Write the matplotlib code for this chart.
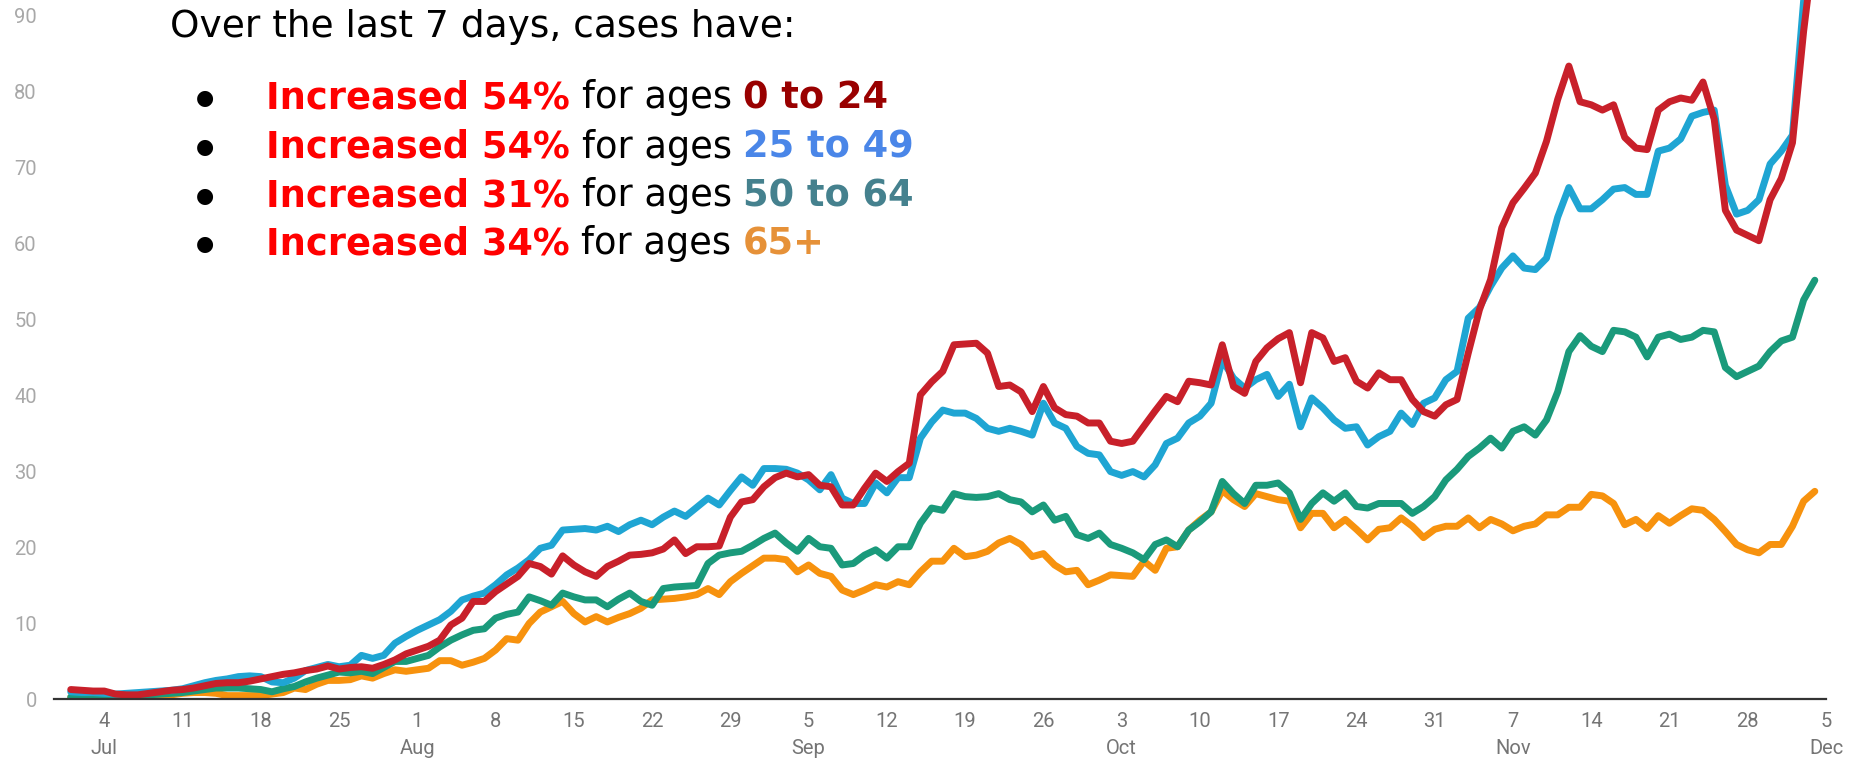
# new cases by age group, 7 day average, Jul 1 - Dec 4
import numpy as np
import pandas as pd
import matplotlib
matplotlib.use('Agg')
import matplotlib.pyplot as plt

dates = pd.date_range('2020-07-01', periods=157, freq='D')

ages_0_24 = [1.3, 1.2, 1.1, 1.1, 0.7, 0.6, 0.6, 0.8, 1.0, 1.2,
             1.3, 1.5, 1.8, 2.1, 2.2, 2.2, 2.4, 2.7, 3.0, 3.3,
             3.5, 3.8, 4.0, 4.4, 4.0, 4.2, 4.3, 4.1, 4.6, 5.2,
             6.0, 6.5, 7.0, 7.8, 9.8, 10.7, 12.9, 12.9, 14.2, 15.2,
             16.2, 17.9, 17.5, 16.5, 18.9, 17.7, 16.8, 16.2, 17.5, 18.2,
             19.0, 19.1, 19.3, 19.8, 21.0, 19.2, 20.1, 20.1, 20.2, 24.0,
             26.0, 26.3, 28.0, 29.2, 29.8, 29.3, 29.6, 28.2, 28.0, 25.6,
             25.6, 27.8, 29.8, 28.7, 30.0, 31.1, 40.1, 41.8, 43.2, 46.7,
             46.8, 46.9, 45.6, 41.2, 41.4, 40.5, 37.9, 41.2, 38.4, 37.5,
             37.3, 36.4, 36.4, 34.0, 33.7, 34.0, 36.0, 38.0, 39.9, 39.2,
             41.9, 41.7, 41.4, 46.7, 41.2, 40.3, 44.5, 46.3, 47.5, 48.3,
             41.7, 48.3, 47.6, 44.5, 45.0, 41.9, 41.0, 43.0, 42.1, 42.1,
             39.5, 37.9, 37.3, 38.8, 39.5, 45.6, 51.3, 55.3, 62.1, 65.4,
             67.3, 69.3, 73.5, 79.0, 83.4, 78.7, 78.3, 77.6, 78.3, 74.0,
             72.6, 72.4, 77.6, 78.7, 79.2, 78.9, 81.3, 76.4, 64.4, 61.8,
             61.1, 60.4, 65.8, 68.6, 73.3, 88.0, 100.0]

ages_25_49 = [1.0, 0.9, 0.9, 0.8, 0.7, 0.8, 0.9, 1.0, 1.1, 1.2,
              1.4, 1.8, 2.2, 2.5, 2.7, 3.0, 3.1, 3.0, 2.3, 2.2,
              2.8, 3.8, 4.2, 4.6, 4.3, 4.5, 5.8, 5.4, 5.8, 7.4,
              8.3, 9.1, 9.8, 10.5, 11.6, 13.1, 13.6, 14.0, 15.1, 16.4,
              17.3, 18.4, 19.9, 20.3, 22.3, 22.4, 22.5, 22.3, 22.8, 22.1,
              23.0, 23.6, 23.0, 24.0, 24.8, 24.1, 25.3, 26.5, 25.6, 27.5,
              29.3, 28.2, 30.4, 30.4, 30.3, 29.8, 28.9, 27.6, 29.6, 26.5,
              25.8, 25.8, 28.5, 27.2, 29.2, 29.2, 34.4, 36.5, 38.1, 37.7,
              37.7, 37.0, 35.7, 35.3, 35.7, 35.3, 34.8, 39.0, 36.4, 35.7,
              33.3, 32.4, 32.2, 30.0, 29.5, 30.0, 29.3, 30.9, 33.7, 34.4,
              36.4, 37.3, 39.0, 44.7, 42.3, 41.0, 42.1, 42.8, 39.9, 41.5,
              35.9, 39.7, 38.4, 36.8, 35.7, 35.9, 33.5, 34.6, 35.3, 37.7,
              36.2, 39.0, 39.7, 42.1, 43.2, 50.2, 51.6, 54.4, 56.8, 58.4,
              56.8, 56.6, 58.1, 63.5, 67.4, 64.6, 64.6, 65.8, 67.2, 67.4,
              66.5, 66.5, 72.2, 72.6, 73.8, 76.8, 77.3, 77.6, 67.7, 63.9,
              64.4, 65.8, 70.5, 72.2, 74.3, 92.0, 102.0]

ages_50_64 = [0.3, 0.5, 0.6, 0.6, 0.6, 0.6, 0.6, 0.6, 0.7, 0.8,
              0.9, 1.1, 1.3, 1.5, 1.5, 1.5, 1.4, 1.3, 1.0, 1.4,
              1.7, 2.3, 2.8, 3.2, 3.6, 3.5, 3.7, 3.4, 4.2, 5.0,
              5.0, 5.4, 5.8, 6.9, 7.8, 8.5, 9.1, 9.3, 10.7, 11.2,
              11.5, 13.5, 13.0, 12.4, 14.0, 13.5, 13.1, 13.1, 12.2, 13.2,
              14.0, 12.9, 12.4, 14.6, 14.8, 14.9, 15.0, 17.9, 19.0, 19.3,
              19.5, 20.3, 21.2, 21.9, 20.6, 19.5, 21.2, 20.1, 19.9, 17.7,
              17.9, 19.0, 19.7, 18.6, 20.1, 20.1, 23.2, 25.2, 24.9, 27.1,
              26.7, 26.6, 26.7, 27.1, 26.3, 26.0, 24.7, 25.6, 23.6, 24.1,
              21.7, 21.2, 21.9, 20.4, 19.9, 19.3, 18.4, 20.4, 21.0, 20.1,
              22.3, 23.4, 24.7, 28.7, 27.1, 25.8, 28.2, 28.2, 28.5, 27.2,
              23.7, 25.8, 27.2, 26.1, 27.2, 25.4, 25.2, 25.8, 25.8, 25.8,
              24.5, 25.4, 26.7, 28.9, 30.3, 32.0, 33.1, 34.4, 33.1, 35.3,
              35.9, 34.8, 36.8, 40.5, 45.8, 47.9, 46.5, 45.8, 48.6, 48.4,
              47.7, 45.1, 47.7, 48.1, 47.4, 47.7, 48.6, 48.4, 43.7, 42.5,
              43.2, 43.9, 45.8, 47.2, 47.7, 52.6, 55.2]

ages_65_plus = [0.3, 0.3, 0.2, 0.2, 0.2, 0.2, 0.2, 0.3, 0.4, 0.6,
                0.8, 0.9, 0.9, 0.8, 0.5, 0.5, 0.5, 0.5, 0.7, 0.9,
                1.5, 1.3, 2.0, 2.5, 2.5, 2.6, 3.1, 2.8, 3.4, 3.9,
                3.7, 3.9, 4.1, 5.1, 5.1, 4.5, 4.9, 5.4, 6.5, 8.0,
                7.8, 10.0, 11.5, 12.2, 12.9, 11.3, 10.2, 10.9, 10.2, 10.8,
                11.3, 12.0, 13.1, 13.2, 13.3, 13.5, 13.8, 14.6, 13.8, 15.5,
                16.6, 17.6, 18.6, 18.6, 18.4, 16.8, 17.7, 16.6, 16.2, 14.4,
                13.8, 14.4, 15.1, 14.8, 15.5, 15.1, 16.8, 18.2, 18.2, 19.9,
                18.8, 19.0, 19.5, 20.6, 21.2, 20.4, 18.8, 19.2, 17.7, 16.8,
                17.0, 15.1, 15.7, 16.4, 16.3, 16.2, 18.2, 17.0, 19.9, 20.1,
                22.3, 23.6, 24.7, 27.5, 26.3, 25.4, 27.1, 26.7, 26.3, 26.1,
                22.6, 24.5, 24.5, 22.6, 23.7, 22.4, 21.0, 22.4, 22.6, 23.9,
                22.8, 21.3, 22.4, 22.8, 22.8, 23.9, 22.6, 23.7, 23.1, 22.2,
                22.8, 23.1, 24.3, 24.3, 25.3, 25.3, 27.0, 26.8, 25.8, 23.0,
                23.7, 22.5, 24.2, 23.2, 24.2, 25.1, 24.9, 23.7, 22.1, 20.4,
                19.7, 19.3, 20.4, 20.4, 22.8, 26.1, 27.4]

tick_dates = pd.date_range('2020-07-04', '2020-12-05', freq='7D')
y_ticks = [0, 10, 20, 30, 40, 50, 60, 70, 80, 90]

# text box lines: (percent, age group, age group colour)
summary = [('Increased 54%', '0 to 24', '#990000'),
           ('Increased 54%', '25 to 49', '#4a86e8'),
           ('Increased 31%', '50 to 64', '#45818e'),
           ('Increased 34%', '65+', '#e69138')]

if __name__ == '__main__':
    fig = plt.figure(figsize=(18.65, 7.70), dpi=100)
    ax = fig.add_axes([53.5/1865, 70.6/770, (1826-53.5)/1865, 699.4/770])

    lw = 5.0
    kw = dict(linewidth=lw, solid_joinstyle='round', solid_capstyle='round')
    ax.plot(dates, ages_65_plus, color='#f7920e', **kw)
    ax.plot(dates, ages_50_64, color='#1a9a7b', **kw)
    ax.plot(dates, ages_25_49, color='#1fa5d3', **kw)
    ax.plot(dates, ages_0_24, color='#c8202a', **kw)

    ax.set_xlim(dates[0] - pd.Timedelta(hours=37), dates[0] + pd.Timedelta(hours=157*24))
    ax.set_ylim(0, 92.1)

    for s in ['left', 'right', 'top']:
        ax.spines[s].set_visible(False)
    ax.spines['bottom'].set_linewidth(1.6)
    ax.spines['bottom'].set_color('#333333')

    labels = []
    prev = None
    for d in tick_dates:
        lab = str(d.day)
        if d.month != prev:
            lab += '\n' + d.strftime('%b')
            prev = d.month
        labels.append(lab)
    ax.set_xticks(tick_dates)
    ax.set_xticklabels(labels, fontfamily='Roboto', fontsize=14.5,
                       color='#757575', linespacing=1.55)
    ax.tick_params(axis='x', length=0, pad=9)

    ax.set_yticks(y_ticks)
    ax.set_yticklabels([str(v) for v in y_ticks], fontfamily='Roboto',
                       fontsize=14.5, color='#a8a8a8')
    ax.tick_params(axis='y', length=0, pad=12)

    font = 'DejaVu Sans'
    fs = 26.5
    fig.text(170/1865, 1 - 27/770, 'Over the last 7 days, cases have:',
             fontfamily=font, fontsize=27, color='black', va='center')

    line_y = [98, 147, 196, 244]
    for (pct, group, col), yy in zip(summary, line_y):
        y = 1 - yy/770
        fig.text(205/1865, y, '\u25cf', fontfamily='DejaVu Sans', fontsize=15,
                 color='black', va='center', ha='center')
        t1 = fig.text(266/1865, y, pct, fontfamily=font, fontsize=fs,
                      fontweight='bold', color='#ff0000', va='center')
        t2 = ax.annotate('for ages', xy=(1, 0), xycoords=t1, xytext=(8.5, 0),
                         textcoords='offset points', fontfamily=font, fontsize=fs,
                         color='black', va='bottom', annotation_clip=False)
        ax.annotate(group, xy=(1, 0), xycoords=t2, xytext=(8.5, 0),
                    textcoords='offset points', fontfamily=font, fontsize=fs,
                    fontweight='bold', color=col, va='bottom', annotation_clip=False)

    plt.savefig('out.png', dpi=100)
